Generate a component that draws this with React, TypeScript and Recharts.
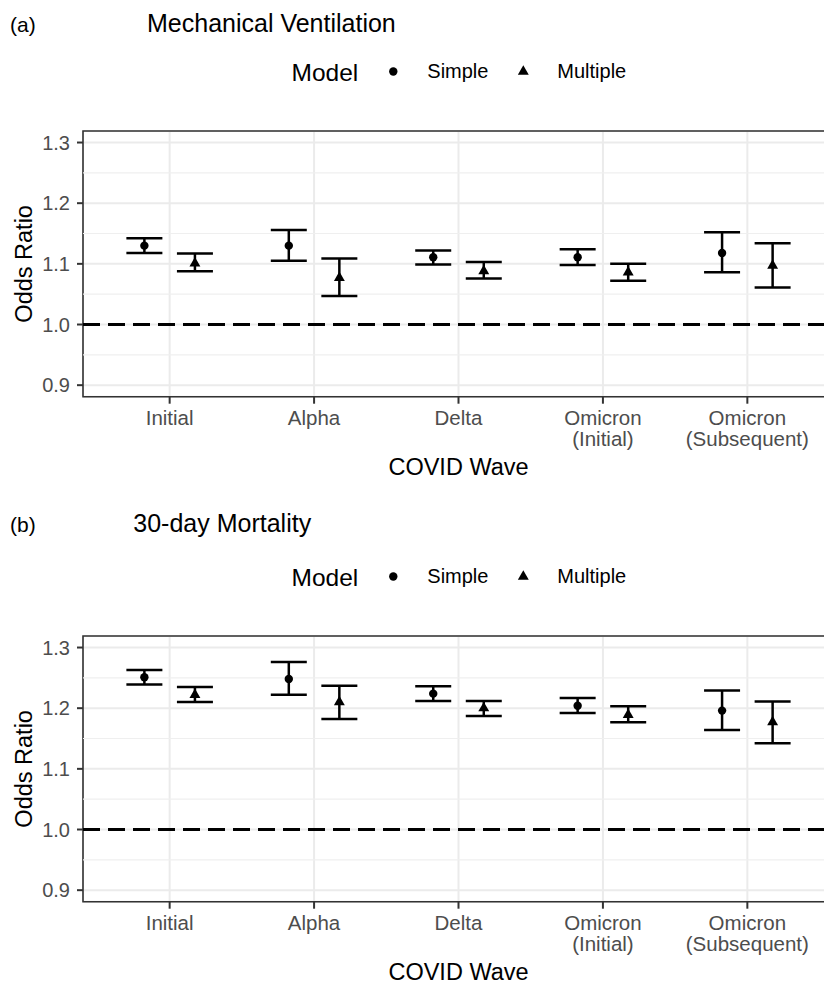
import React from 'react';
import { ScatterChart, Scatter, XAxis, YAxis, CartesianGrid, ReferenceLine, ReferenceArea, ErrorBar, Label } from 'recharts';

// categories / ticks
const waves = ['Initial', 'Alpha', 'Delta', 'Omicron\n(Initial)', 'Omicron\n(Subsequent)'];
const waveTicks = [1, 2, 3, 4, 5];
const yTicks = [0.9, 1.0, 1.1, 1.2, 1.3];
const yMinor = [0.95, 1.05, 1.15, 1.25];

// (a) Mechanical Ventilation
const mvSimpleOR = [1.130, 1.130, 1.111, 1.111, 1.118];
const mvSimpleLo = [1.118, 1.105, 1.099, 1.098, 1.086];
const mvSimpleHi = [1.142, 1.156, 1.122, 1.124, 1.152];
const mvMultOR = [1.101, 1.077, 1.088, 1.086, 1.097];
const mvMultLo = [1.088, 1.047, 1.076, 1.072, 1.061];
const mvMultHi = [1.117, 1.109, 1.103, 1.100, 1.134];

// (b) 30-day Mortality
const mrSimpleOR = [1.251, 1.248, 1.224, 1.204, 1.196];
const mrSimpleLo = [1.239, 1.222, 1.212, 1.192, 1.164];
const mrSimpleHi = [1.263, 1.276, 1.236, 1.217, 1.229];
const mrMultOR = [1.222, 1.210, 1.200, 1.189, 1.177];
const mrMultLo = [1.210, 1.182, 1.187, 1.177, 1.142];
const mrMultHi = [1.235, 1.237, 1.212, 1.203, 1.211];

const Y_MIN = 0.881;
const Y_MAX = 1.319;
const X_MIN = 0.4;
const X_MAX = 5.6;
const DODGE = 0.175;

const FONT = "'Liberation Sans', Arial, Helvetica, sans-serif";

const buildRows = (or: number[], lo: number[], hi: number[], shift: number) =>
  or.map((v, i) => ({ x: i + 1 + shift, y: v, err: [v - lo[i], hi[i] - v] }));

const Dot = (props: any) => <circle cx={props.cx} cy={props.cy} r={4.2} fill="#000" />;

const Tri = (props: any) => {
  const { cx, cy } = props;
  const r = 6.3;
  return (
    <polygon
      points={`${cx},${cy - r} ${cx + 0.866 * r},${cy + r / 2} ${cx - 0.866 * r},${cy + r / 2}`}
      fill="#000"
    />
  );
};

const WaveTick = (props: any) => {
  const { x, y, payload } = props;
  const lines = (waves[Math.round(payload.value) - 1] || '').split('\n');
  return (
    <text x={x} y={y} textAnchor="middle" fill="#4D4D4D" fontSize={20.5} fontFamily={FONT}>
      {lines.map((l, i) => (
        <tspan key={i} x={x} dy={i === 0 ? 18 : 21}>{l}</tspan>
      ))}
    </text>
  );
};

interface PanelProps {
  top: number;
  tag: string;
  title: string;
  titleX: number;
  titleBase: number;
  simple: { x: number; y: number; err: number[] }[];
  multiple: { x: number; y: number; err: number[] }[];
}

const Panel: React.FC<PanelProps> = ({ top, tag, title, titleX, titleBase, simple, multiple }) => {
  return (
    <div style={{ position: 'absolute', left: 0, top, width: 850, height: 505 }}>
      <ScatterChart width={850} height={505} margin={{ top: 131, right: 16, bottom: 18.3, left: 0 }}>
        <CartesianGrid stroke="#EBEBEB" strokeWidth={2} />
        {yMinor.map(v => (
          <ReferenceLine key={v} y={v} stroke="#EFEFEF" strokeWidth={1.2} />
        ))}
        <XAxis
          type="number"
          dataKey="x"
          domain={[X_MIN, X_MAX]}
          ticks={waveTicks}
          interval={0}
          allowDataOverflow
          height={90}
          axisLine={false}
          tickLine={{ stroke: '#333', strokeWidth: 2 }}
          tickSize={7}
          tickMargin={3}
          tick={<WaveTick />}
        >
          <Label
            content={(p: any) => {
              const vb = p.viewBox || { x: 83, y: 396.7, width: 751 };
              return (
                <text x={vb.x + vb.width / 2} y={vb.y + 78.5} textAnchor="middle" fontSize={23.5} fill="#000" fontFamily={FONT}>
                  COVID Wave
                </text>
              );
            }}
          />
        </XAxis>
        <YAxis
          type="number"
          dataKey="y"
          domain={[Y_MIN, Y_MAX]}
          ticks={yTicks}
          interval={0}
          allowDataOverflow
          width={83}
          axisLine={false}
          tickLine={{ stroke: '#333', strokeWidth: 2 }}
          tickSize={6}
          tickMargin={7}
          tick={{ fill: '#4D4D4D', fontSize: 20, fontFamily: FONT }}
          tickFormatter={(v: number) => v.toFixed(1)}
        >
          <Label
            content={(p: any) => {
              const vb = p.viewBox || { y: 131, height: 265.7 };
              const cy = vb.y + vb.height / 2;
              return (
                <text x={32} y={cy} transform={`rotate(-90, 32, ${cy})`} textAnchor="middle" fontSize={23.5} fill="#000" fontFamily={FONT}>
                  Odds Ratio
                </text>
              );
            }}
          />
        </YAxis>
        <ReferenceLine y={1} stroke="#000" strokeWidth={3} strokeDasharray="17 8" />
        <ReferenceArea x1={X_MIN} x2={X_MAX} y1={Y_MIN} y2={Y_MAX} fill="none" stroke="#333" strokeWidth={1.6} ifOverflow="visible" />
        <Scatter name="Simple" data={simple} shape={Dot} isAnimationActive={false}>
          <ErrorBar dataKey="err" direction="y" width={18} stroke="#000" strokeWidth={2.5} isAnimationActive={false} />
        </Scatter>
        <Scatter name="Multiple" data={multiple} shape={Tri} isAnimationActive={false}>
          <ErrorBar dataKey="err" direction="y" width={18} stroke="#000" strokeWidth={2.5} isAnimationActive={false} />
        </Scatter>
      </ScatterChart>
      <svg width={824} height={110} style={{ position: 'absolute', left: 0, top: 0, pointerEvents: 'none' }} fontFamily={FONT}>
        <text x={10} y={titleBase} fontSize={21} fill="#000">{tag}</text>
        <text x={titleX} y={titleBase} fontSize={25} fill="#000">{title}</text>
        <text x={291.5} y={80.5} fontSize={24.5} fill="#000">Model</text>
        <Dot cx={393.3} cy={71.5} />
        <text x={427.3} y={78.3} fontSize={20} fill="#000">Simple</text>
        <Tri cx={523.3} cy={71.5} />
        <text x={557.3} y={78.3} fontSize={20} fill="#000">Multiple</text>
      </svg>
    </div>
  );
};

export default function App() {
  const mvSimple = buildRows(mvSimpleOR, mvSimpleLo, mvSimpleHi, -DODGE);
  const mvMult = buildRows(mvMultOR, mvMultLo, mvMultHi, DODGE);
  const mrSimple = buildRows(mrSimpleOR, mrSimpleLo, mrSimpleHi, -DODGE);
  const mrMult = buildRows(mrMultOR, mrMultLo, mrMultHi, DODGE);

  return (
    <div
      style={{
        position: 'absolute',
        left: 0,
        top: 0,
        width: 824,
        height: 985,
        overflow: 'hidden',
        background: '#fff',
        fontFamily: FONT,
      }}
    >
      <Panel top={0} tag="(a)" title="Mechanical Ventilation" titleX={147} titleBase={31.7} simple={mvSimple} multiple={mvMult} />
      <Panel top={505} tag="(b)" title="30-day Mortality" titleX={133.3} titleBase={26.7} simple={mrSimple} multiple={mrMult} />
    </div>
  );
}
